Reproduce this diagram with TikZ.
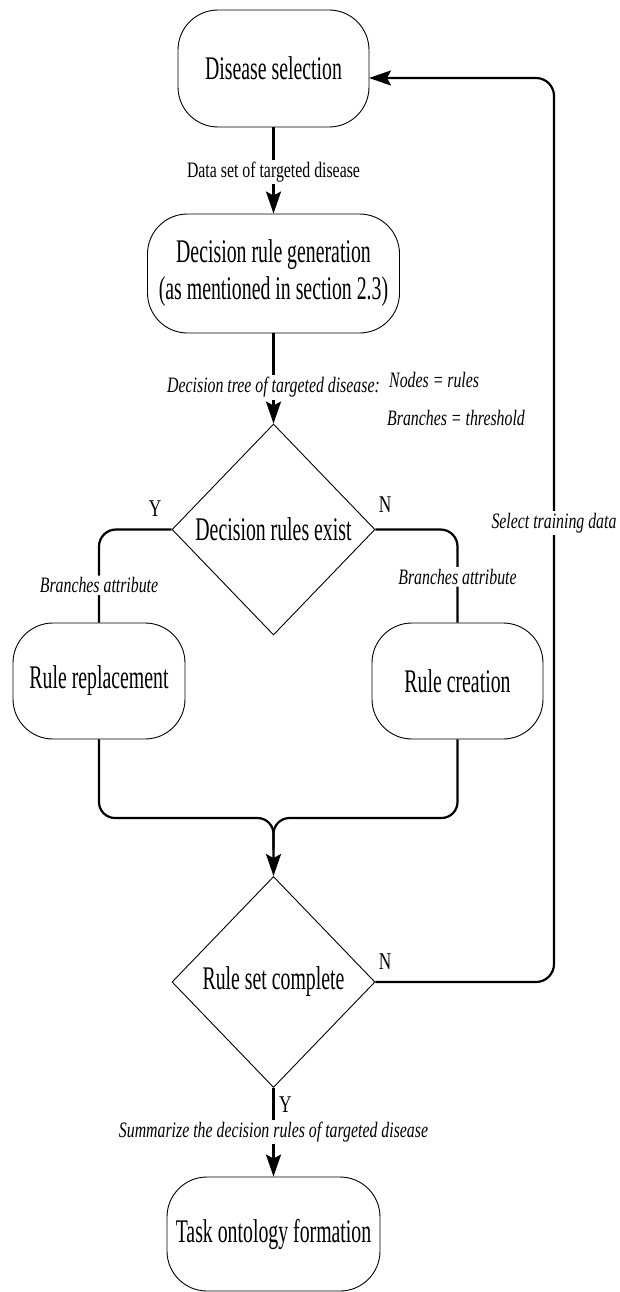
\documentclass[tikz,border=0pt]{standalone}
\usepackage{fontspec}
\setmainfont{Liberation Serif}[FakeStretch=0.6]
\newfontfamily\lblfont{Liberation Serif}[FakeStretch=0.72]
\usetikzlibrary{shapes.geometric,arrows.meta}
\begin{document}
\begin{tikzpicture}[x=1pt,y=-1pt,
  box/.style={draw, line width=0.9pt, rounded corners=40pt, align=center, inner sep=0pt,
    font=\fontsize{33}{37}\selectfont},
  dec/.style={diamond, draw, line width=0.9pt, inner sep=0pt, minimum width=203pt,
    minimum height=211pt, font=\fontsize{33}{37}\selectfont},
  conn/.style={line width=2.2pt},
  arr/.style={-{Stealth[length=22pt,width=15pt,inset=4pt]}},
  lbl/.style={fill=white, inner sep=2pt, font=\lblfont\fontsize{22}{26}\selectfont},
  lblit/.style={fill=white, inner sep=2pt, font=\lblfont\itshape\fontsize{22}{26}\selectfont},
  yn/.style={inner sep=0pt, font=\lblfont\fontsize{24}{28}\selectfont}]
\useasboundingbox (0,0) rectangle (619,1292);

% process boxes and decisions
\node[box, minimum width=191pt, minimum height=117pt] (ds) at (273.5,68.5) {Disease selection};
\node[box, minimum width=252pt, minimum height=119pt] (drg) at (273.5,273.5)
  {Decision rule generation\\(as mentioned in section 2.3)};
\node[dec] (d1) at (273.5,529.5) {Decision rules exist};
\node[box, minimum width=172pt, minimum height=116pt] (rr) at (99,681) {Rule replacement};
\node[box, minimum width=171pt, minimum height=116pt] (rc) at (457.5,681) {Rule creation};
\node[dec] (d2) at (273.5,982) {Rule set complete};
\node[box, minimum width=213pt, minimum height=114pt] (tof) at (273.5,1234) {Task ontology formation};

% helper points
\coordinate (mj) at (273.5,818);
\coordinate (mjd) at (273.5,850);
\coordinate (fbcol) at (554,78);
\coordinate (fbin) at (369,78);

% main flow
\draw[conn,arr] (ds.south) -- node[lbl, pos=0.52] {Data set of targeted disease} (drg.north);
\draw[conn,arr] (drg.south) -- node[lblit, pos=0.6] {Decision tree of targeted disease:} (d1.north);
\node[lblit, anchor=base west, inner sep=0pt] (nr) at (389,387) {Nodes = rules};
\node[lblit, anchor=base west, inner sep=0pt] (bt) at (387,425) {Branches = threshold};

% branches of the first decision
\draw[conn, rounded corners=17pt] (d1.west) -| node[lblit, pos=0.8] {Branches attribute} (rr.north);
\draw[conn, rounded corners=17pt] (d1.east) -| node[lblit, pos=0.755] {Branches attribute} (rc.north);
\node[yn] (y1) at (155,509) {Y};
\node[yn] (n1) at (385,505) {N};

% merge into the second decision
\draw[conn, rounded corners=16pt, arr] (rr.south) |- (mj) -- (d2.north);
\draw[conn, rounded corners=16pt] (rc.south) |- (mj) -- (mjd);

% feedback loop
\draw[conn, rounded corners=18pt, arr] (d2.east) -| (fbcol) -- (fbin);
\node[lblit] (std) at (554,523) {Select training data};
\node[yn] (n2) at (385,962) {N};

% final step
\draw[conn,arr] (d2.south) -- node[lblit, pos=0.5] {Summarize the decision rules of targeted disease} (tof.north);
\node[yn, anchor=west] (y2) at (279,1105) {Y};
\end{tikzpicture}
\end{document}
